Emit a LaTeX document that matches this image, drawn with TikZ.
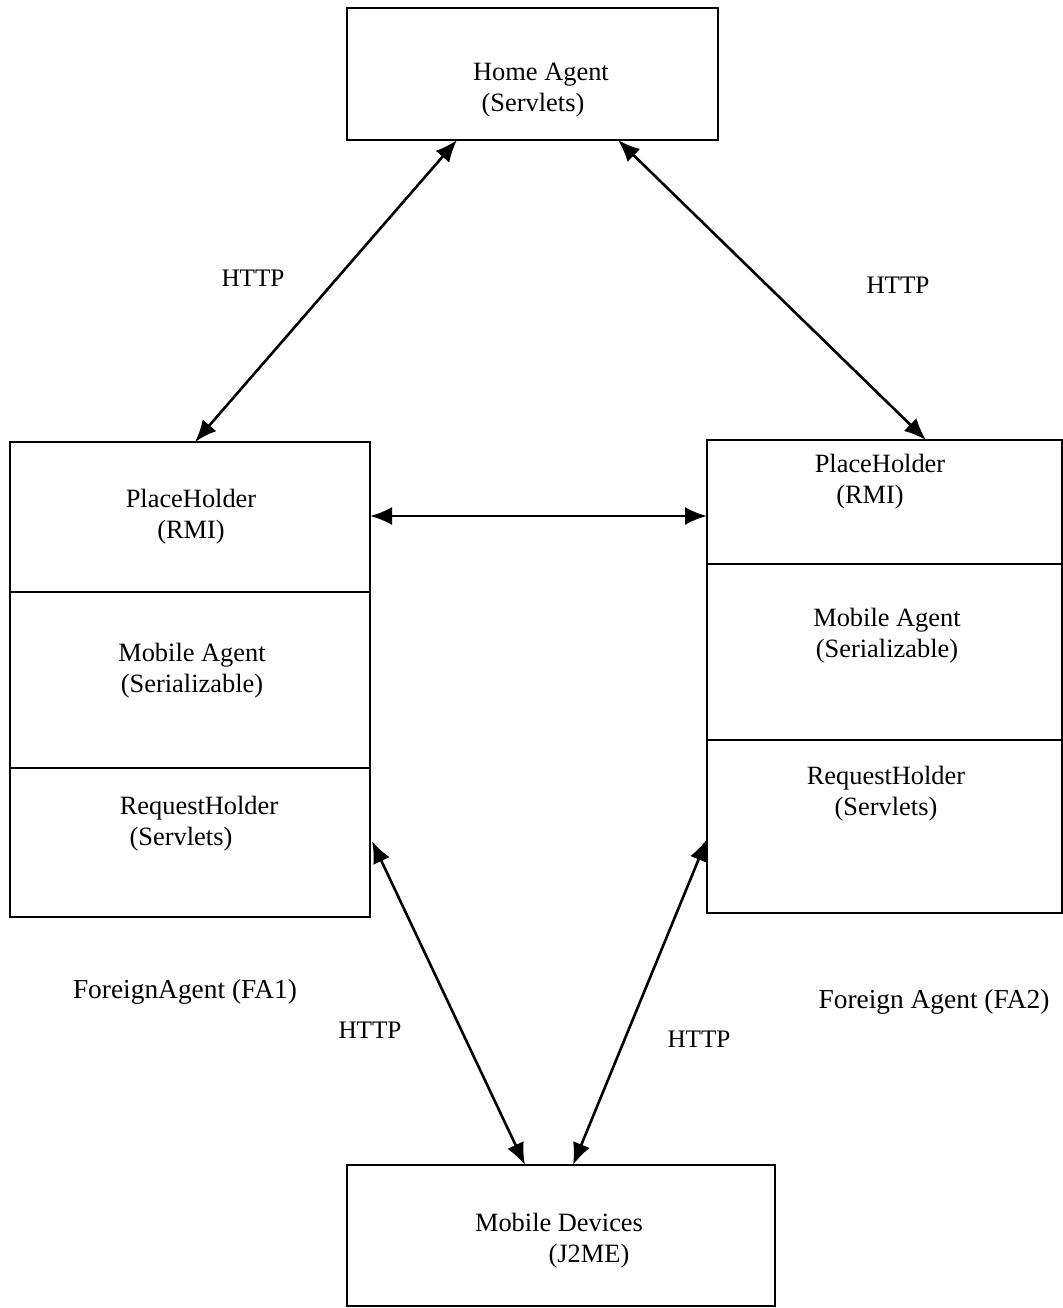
\documentclass[tikz,border=0pt]{standalone}
\usepackage{fontspec}
\setmainfont{Liberation Serif}
\usetikzlibrary{arrows.meta,calc,fit}
\begin{document}
\begin{tikzpicture}[x=0.5pt,y=-0.5pt,
  box/.style={draw,line width=1.3pt,inner sep=0pt,outer sep=0pt},
  lbl/.style={inner sep=0pt,align=center,font=\fontsize{13.2}{15.5}\selectfont},
  proto/.style={lbl,font=\fontsize{12.6}{15}\selectfont},
  agentname/.style={lbl,font=\fontsize{13.7}{16}\selectfont},
  link/.style={line width=1.3pt,{Latex[length=11pt,width=9pt]}-{Latex[length=11pt,width=9pt]}}]
\useasboundingbox (0,0) rectangle (1063,1308);

% Home agent
\node[box,fit={(347,8) (718,140)}] (ha) {};
\node[lbl] (hat) at (541,90) {Home Agent\\\hspace*{-8pt}(Servlets)};

% Foreign agent 1
\node[box,fit={(10,442) (370,592)}] (fa1p) {};
\node[box,fit={(10,592) (370,768)}] (fa1m) {};
\node[box,fit={(10,768) (370,917)}] (fa1r) {};
\node[lbl] (fa1pt) at (191,517) {PlaceHolder\\(RMI)};
\node[lbl] (fa1mt) at (192,671) {Mobile Agent\\(Serializable)};
\node[lbl] (fa1rt) at (199,824) {RequestHolder\\\hspace*{-18pt}(Servlets)};
\node[agentname] (fa1n) at (185,992) {ForeignAgent (FA1)};

% Foreign agent 2
\node[box,fit={(707,440) (1062,564)}] (fa2p) {};
\node[box,fit={(707,564) (1062,740)}] (fa2m) {};
\node[box,fit={(707,740) (1062,913)}] (fa2r) {};
\node[lbl] (fa2pt) at (880,482) {PlaceHolder\\\hspace*{-10pt}(RMI)};
\node[lbl] (fa2mt) at (887,636) {Mobile Agent\\(Serializable)};
\node[lbl] (fa2rt) at (886,794) {RequestHolder\\(Servlets)};
\node[agentname] (fa2n) at (934,1002) {Foreign Agent (FA2)};

% Mobile devices
\node[box,fit={(347,1165) (775,1306)}] (md) {};
\node[lbl] (mdt) at (559,1241) {Mobile Devices\\\hspace*{30pt}(J2ME)};

% Connectors
\draw[link] ($(ha.south west)+(110,0)$) -- ($(fa1p.north west)+(185,0)$);
\draw[link] ($(ha.south west)+(271,0)$) -- ($(fa2p.north west)+(219,0)$);
\draw[link] ($(fa1p.north east)+(0,74)$) -- ($(fa2p.north west)+(0,76)$);
\draw[link] ($(fa1r.north east)+(2,73)$) -- ($(md.north west)+(178,0)$);
\draw[link] ($(fa2r.north west)+(0,99)$) -- ($(md.north west)+(226,0)$);

% Protocol labels
\node[proto] (h1) at (253,278) {HTTP};
\node[proto] (h2) at (898,285) {HTTP};
\node[proto] (h3) at (370,1030) {HTTP};
\node[proto] (h4) at (699,1039) {HTTP};
\end{tikzpicture}
\end{document}
